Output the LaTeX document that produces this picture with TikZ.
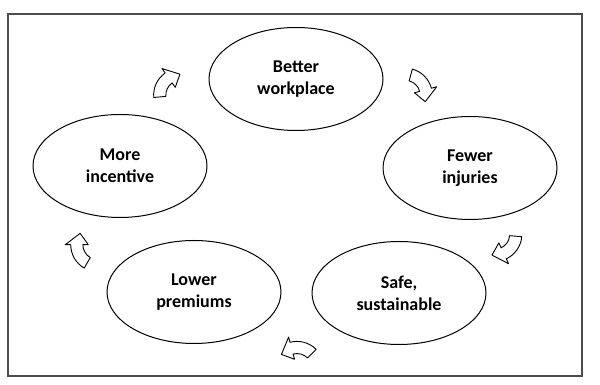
\documentclass[tikz,border=0pt]{standalone}
\usepackage{fontspec}
\setmainfont{Carlito}
\usetikzlibrary{shapes.geometric}

\tikzset{
  cyclenode/.style={draw, ellipse, line width=1pt, minimum width=174pt, minimum height=103pt,
    align=center, font=\bfseries\fontsize{18}{22}\selectfont},
  cyclearrow/.style={draw, fill=white, line width=0.9pt, line join=round}
}

\begin{document}
\begin{tikzpicture}[x=1pt, y=1pt]
    \useasboundingbox (0,0) rectangle (600,385);
    \draw[line width=1.2pt, black!70] (8,9) rectangle (582,371);

    \node[cyclenode] (work) at (296,306) {Better\\workplace};
    \node[cyclenode] (injur) at (470,217) {Fewer\\injuries};
    \node[cyclenode] (safe) at (399,92) {Safe,\\sustainable};
    \node[cyclenode] (prem) at (194,93) {Lower\\premiums};
    \node[cyclenode] (incent) at (120,219) {More\\incentive};

    \foreach \ax/\ay/\rot/\flip in {165/303/25/1, 423/300/-85/1, 508/135/-165/1, 297/37/25/-1, 78/135/80/1}
        {\draw[cyclearrow, shift={(\ax,\ay)}, rotate=\rot, xscale=\flip, scale=1.35, shift={(6.4,-13.7)}]
            (160:20) arc[start angle=160, end angle=100, radius=20] -- (100:24) -- (67:15.5)
            -- (100:7) -- (100:11) arc[start angle=100, end angle=160, radius=11] -- cycle;}
\end{tikzpicture}
\end{document}
